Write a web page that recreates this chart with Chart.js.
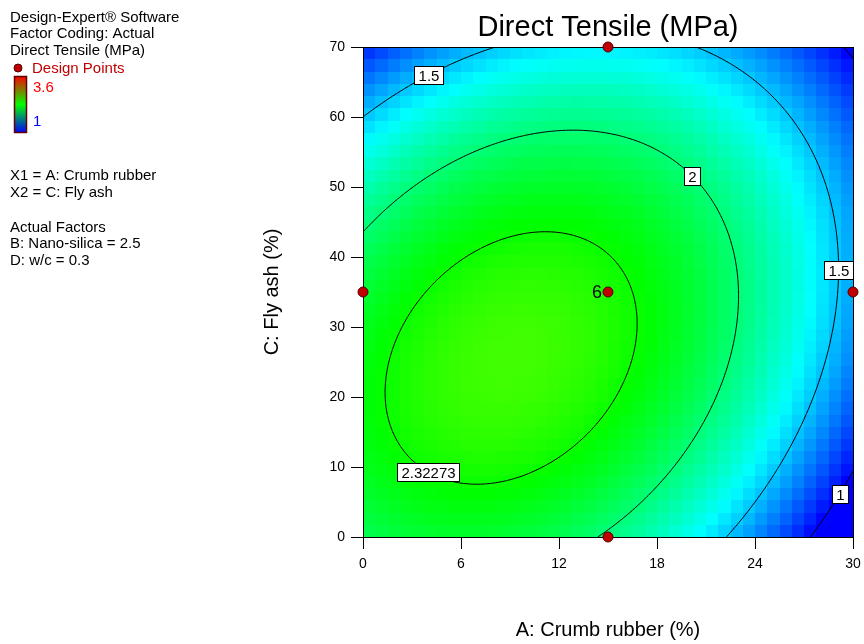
<!DOCTYPE html>
<html>
<head>
<meta charset="utf-8">
<title>Direct Tensile (MPa)</title>
<script src="https://cdn.jsdelivr.net/npm/chart.js@4.4.1/dist/chart.umd.min.js"></script>
<style>
    html, body { margin: 0; padding: 0; background: #fff; }
    #wrap { width: 864px; height: 644px; }
</style>
</head>
<body>
<div id="wrap"><canvas id="contour-chart" width="864" height="644"></canvas></div>
<script>
/* ============================================
   DIRECT TENSILE - contour plot A x C
   ============================================ */

// Axis ticks
const crumbRubberTicks = [0, 6, 12, 18, 24, 30];
const flyAshTicks = [0, 10, 20, 30, 40, 50, 60, 70];

// Quadratic model in actual factors (B = 2.5, D = 0.3 held fixed)
const modelTerms = ['Intercept', 'A', 'C', 'AC', 'A^2', 'C^2'];
const modelCoeffs = [2.082, 0.03159, 0.01881, 0.000605, -0.002595, -0.000475];

// Contour levels and where each label sits (A, C)
const contourLevels = [1, 1.5, 2, 2.32273];
const labelLevels = [1.5, 2, 1.5, 1, 2.32273];
const labelText = ['1.5', '2', '1.5', '1', '2.32273'];
const labelA = [3.8, 20.4, 29.1, 28.8, 4.2];
const labelC = [66.9, 52.1, 38.1, 6.7, 10.1];

// Design points
const designA = [0, 15, 15, 15, 30];
const designC = [35, 70, 35, 0, 35];
const designReps = [1, 1, 6, 1, 1];

// Colour scale range
const colorRange = [1, 3.6];

const FONT = "'Liberation Sans', Arial, sans-serif";

// ============================================
// MODEL + COLOURS
// ============================================

function responseAt(a, c) {
    const [b0, bA, bC, bAC, bAA, bCC] = modelCoeffs;
    return b0 + bA * a + bC * c + bAC * a * c + bAA * a * a + bCC * c * c;
}

function responseGrad(a, c) {
    const [, bA, bC, bAC, bAA, bCC] = modelCoeffs;
    return [bA + bAC * c + 2 * bAA * a, bC + bAC * a + 2 * bCC * c];
}

// blue -> cyan -> green -> yellow -> red
function colorFor(v) {
    let t = (v - colorRange[0]) / (colorRange[1] - colorRange[0]);
    t = Math.max(0, Math.min(1, t));
    const stops = [[0, 0, 255], [0, 255, 255], [0, 255, 0], [255, 255, 0], [255, 0, 0]];
    const p = t * 4;
    const k = Math.min(3, Math.floor(p));
    const f = p - k;
    const c0 = stops[k], c1 = stops[k + 1];
    const r = Math.round(c0[0] + (c1[0] - c0[0]) * f);
    const g = Math.round(c0[1] + (c1[1] - c0[1]) * f);
    const b = Math.round(c0[2] + (c1[2] - c0[2]) * f);
    return `rgb(${r},${g},${b})`;
}

// ============================================
// PLUGINS
// ============================================

const surfacePlugin = {
    id: 'surface',
    beforeDatasetsDraw(chart) {
        const { ctx, chartArea: area } = chart;
        const xs = chart.scales.x, ys = chart.scales.y;
        const aMin = xs.min, aMax = xs.max, cMin = ys.min, cMax = ys.max;

        // colour cells
        const nCells = 40;
        ctx.save();
        for (let i = 0; i < nCells; i++) {
            const a0 = aMin + (aMax - aMin) * i / nCells;
            const a1 = aMin + (aMax - aMin) * (i + 1) / nCells;
            const x0 = Math.round(xs.getPixelForValue(a0));
            const x1 = Math.round(xs.getPixelForValue(a1));
            for (let j = 0; j < nCells; j++) {
                const c0 = cMin + (cMax - cMin) * j / nCells;
                const c1 = cMin + (cMax - cMin) * (j + 1) / nCells;
                const y0 = Math.round(ys.getPixelForValue(c1));
                const y1 = Math.round(ys.getPixelForValue(c0));
                ctx.fillStyle = colorFor(responseAt((a0 + a1) / 2, (c0 + c1) / 2));
                ctx.fillRect(x0, y0, x1 - x0, y1 - y0);
            }
        }

        // contour lines (marching squares)
        const N = 200;
        const vals = [];
        for (let i = 0; i <= N; i++) {
            vals.push([]);
            for (let j = 0; j <= N; j++) {
                vals[i].push(responseAt(aMin + (aMax - aMin) * i / N, cMin + (cMax - cMin) * j / N));
            }
        }
        const px = i => xs.getPixelForValue(aMin + (aMax - aMin) * i / N);
        const py = j => ys.getPixelForValue(cMin + (cMax - cMin) * j / N);

        ctx.beginPath();
        ctx.rect(area.left, area.top, area.right - area.left, area.bottom - area.top);
        ctx.clip();
        ctx.strokeStyle = '#000';
        ctx.lineWidth = 1;
        ctx.beginPath();
        contourLevels.forEach(level => {
            for (let i = 0; i < N; i++) {
                for (let j = 0; j < N; j++) {
                    const v = [vals[i][j], vals[i + 1][j], vals[i + 1][j + 1], vals[i][j + 1]];
                    const corners = [[i, j], [i + 1, j], [i + 1, j + 1], [i, j + 1]];
                    const pts = [];
                    for (let e = 0; e < 4; e++) {
                        const va = v[e], vb = v[(e + 1) % 4];
                        if ((va < level) !== (vb < level)) {
                            const t = (level - va) / (vb - va);
                            const ca = corners[e], cb = corners[(e + 1) % 4];
                            pts.push([px(ca[0] + (cb[0] - ca[0]) * t), py(ca[1] + (cb[1] - ca[1]) * t)]);
                        }
                    }
                    for (let p = 0; p + 1 < pts.length; p += 2) {
                        ctx.moveTo(pts[p][0], pts[p][1]);
                        ctx.lineTo(pts[p + 1][0], pts[p + 1][1]);
                    }
                }
            }
        });
        ctx.stroke();
        ctx.restore();

        // contour labels, nudged onto their line
        ctx.save();
        ctx.font = `15px ${FONT}`;
        ctx.textAlign = 'center';
        ctx.textBaseline = 'middle';
        labelText.forEach((txt, k) => {
            let a = labelA[k], c = labelC[k];
            for (let it = 0; it < 20; it++) {
                const f = responseAt(a, c) - labelLevels[k];
                const [gA, gC] = responseGrad(a, c);
                const gu = gA * (aMax - aMin), gv = gC * (cMax - cMin);
                const g2 = gu * gu + gv * gv;
                a -= f * gu / g2 * (aMax - aMin);
                c -= f * gv / g2 * (cMax - cMin);
            }
            const cx = xs.getPixelForValue(a), cy = ys.getPixelForValue(c);
            const w = Math.round(ctx.measureText(txt).width + 8);
            const h = 18;
            const bx = Math.round(cx - w / 2) + 0.5, by = Math.round(cy - h / 2) + 0.5;
            ctx.fillStyle = '#fff';
            ctx.fillRect(bx, by, w, h);
            ctx.strokeStyle = '#000';
            ctx.strokeRect(bx, by, w, h);
            ctx.fillStyle = '#000';
            ctx.fillText(txt, bx + w / 2, by + h / 2 + 1);
        });

        // frame
        ctx.strokeStyle = '#000';
        ctx.lineWidth = 1;
        ctx.strokeRect(Math.round(area.left) + 0.5, Math.round(area.top) + 0.5,
            Math.round(area.right - area.left), Math.round(area.bottom - area.top));
        ctx.restore();
    },
    afterDatasetsDraw(chart) {
        const { ctx } = chart;
        const xs = chart.scales.x, ys = chart.scales.y;
        ctx.save();
        ctx.font = `18px ${FONT}`;
        ctx.fillStyle = '#000';
        ctx.textAlign = 'right';
        ctx.textBaseline = 'middle';
        designReps.forEach((n, k) => {
            if (n > 1) {
                ctx.fillText(String(n), xs.getPixelForValue(designA[k]) - 6, ys.getPixelForValue(designC[k]) + 1);
            }
        });
        ctx.restore();
    }
};

const annotationPlugin = {
    id: 'annotations',
    afterDraw(chart) {
        const { ctx, chartArea: area } = chart;
        ctx.save();

        // main title
        ctx.fillStyle = '#000';
        ctx.font = `29px ${FONT}`;
        ctx.textAlign = 'center';
        ctx.textBaseline = 'alphabetic';
        ctx.fillText('Direct Tensile (MPa)', (area.left + area.right) / 2, 36);

        // side info
        ctx.textAlign = 'left';
        ctx.font = `15px ${FONT}`;
        const info = [
            ['Design-Expert\u00AE Software', 22],
            ['Factor Coding: Actual', 38],
            ['Direct Tensile (MPa)', 55],
            ['X1 = A: Crumb rubber', 180],
            ['X2 = C: Fly ash', 197],
            ['Actual Factors', 232],
            ['B: Nano-silica = 2.5', 248],
            ['D: w/c = 0.3', 265]
        ];
        info.forEach(([txt, y]) => ctx.fillText(txt, 10, y));

        // design points key
        ctx.beginPath();
        ctx.arc(18, 68, 4, 0, Math.PI * 2);
        ctx.fillStyle = '#c00000';
        ctx.fill();
        ctx.strokeStyle = '#500000';
        ctx.stroke();
        ctx.fillStyle = '#c00000';
        ctx.fillText('Design Points', 32, 73);

        // colour bar
        const grad = ctx.createLinearGradient(0, 76, 0, 133);
        grad.addColorStop(0, '#ff0000');
        grad.addColorStop(0.5, '#00ff00');
        grad.addColorStop(1, '#0000ff');
        ctx.fillStyle = grad;
        ctx.fillRect(14, 76, 13, 57);
        ctx.strokeStyle = '#600000';
        ctx.lineWidth = 1.5;
        ctx.strokeRect(14.5, 76.5, 12, 56);
        ctx.fillStyle = '#ff0000';
        ctx.fillText(String(colorRange[1]), 33, 92);
        ctx.fillStyle = '#0000ff';
        ctx.fillText(String(colorRange[0]), 33, 126);

        ctx.restore();
    }
};

// ============================================
// CHART
// ============================================

function initContourChart() {
    const ctx = document.getElementById('contour-chart');
    const tickFont = { family: FONT, size: 14 };
    const titleFont = { family: FONT, size: 20 };

    return new Chart(ctx, {
        type: 'scatter',
        data: {
            datasets: [{
                label: 'Design Points',
                data: designA.map((a, k) => ({ x: a, y: designC[k] })),
                pointRadius: 5,
                pointHoverRadius: 5,
                backgroundColor: '#c00000',
                borderColor: '#500000',
                borderWidth: 1,
                clip: false
            }]
        },
        options: {
            responsive: false,
            animation: false,
            layout: { padding: { left: 255, right: 11, top: 47, bottom: 0 } },
            plugins: {
                legend: { display: false },
                tooltip: { enabled: false },
                title: { display: false }
            },
            scales: {
                x: {
                    type: 'linear',
                    min: 0,
                    max: 30,
                    afterBuildTicks: s => { s.ticks = crumbRubberTicks.map(v => ({ value: v })); },
                    afterFit: s => { s.height = 107; s.paddingLeft = 0; s.paddingRight = 0; },
                    grid: { drawOnChartArea: false, drawTicks: true, tickLength: 12, color: '#000' },
                    border: { display: true, color: '#000' },
                    ticks: { color: '#000', font: tickFont, padding: 7, maxRotation: 0 },
                    title: {
                        display: true, text: 'A: Crumb rubber (%)', color: '#000',
                        font: titleFont, padding: { top: 4, bottom: 2 }
                    }
                },
                y: {
                    type: 'linear',
                    min: 0,
                    max: 70,
                    afterBuildTicks: s => { s.ticks = flyAshTicks.map(v => ({ value: v })); },
                    afterFit: s => { s.width = 108; s.paddingTop = 0; s.paddingBottom = 0; },
                    grid: { drawOnChartArea: false, drawTicks: true, tickLength: 12, color: '#000' },
                    border: { display: true, color: '#000' },
                    ticks: { color: '#000', font: tickFont, padding: 6 },
                    title: {
                        display: true, text: 'C: Fly ash (%)', color: '#000',
                        font: titleFont, padding: { top: 5, bottom: 4 }
                    }
                }
            }
        },
        plugins: [surfacePlugin, annotationPlugin]
    });
}

initContourChart();
</script>
</body>
</html>
